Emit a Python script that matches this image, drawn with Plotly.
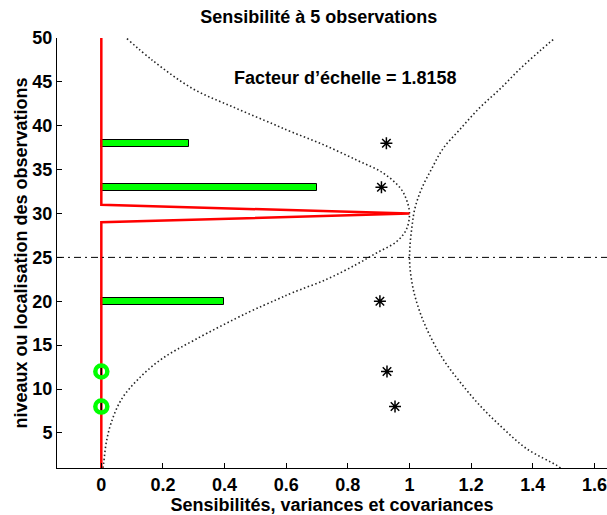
import plotly.graph_objects as go

# ---- data ----
levels_sens = list(range(1, 51))
sens_values = [0.0] * 29 + [1.0] + [0.0] * 20          # red sensitivity profile (peak at level 30)

obs_levels = [38, 33, 20, 12, 8]
obs_sens = [0.286, 0.70, 0.397, 0.0, 0.0]               # green bars
obs_var = [0.925, 0.909, 0.904, 0.927, 0.953]           # asterisks

corr_y = [1.0, 1.66, 3.9, 6.15, 8.8, 11.1, 13.4, 15.6, 18.7, 20.2, 21.0, 22.5, 24.2, 25.5, 26.8,
          28.2, 30.0, 31.6, 32.9, 34.6, 36.1, 37.85, 39.3, 40.2, 42.1, 44.2, 47.4, 50.0]
corr_x = [0.005, 0.008, 0.016, 0.032, 0.065, 0.119, 0.195, 0.303, 0.475, 0.57, 0.622, 0.731, 0.828, 0.893, 0.958,
          0.99, 1.0, 0.99, 0.97, 0.915, 0.828, 0.72, 0.617, 0.557, 0.43, 0.298, 0.168, 0.081]

var_y = [1.0, 1.3, 3.2, 5.5, 8.1, 10.8, 13.4, 16.1, 18.75, 21.4, 24.1, 26.0, 28.2, 30.5, 32.8, 35.1,
         37.4, 39.6, 42.1, 44.2, 46.5, 48.55, 50.0]
var_x = [1.49, 1.478, 1.380, 1.304, 1.229, 1.164, 1.109, 1.066, 1.034, 1.012, 1.001, 1.001, 1.007, 1.017, 1.039, 1.072,
         1.109, 1.164, 1.229, 1.294, 1.359, 1.424, 1.472]

zero_levels = [12, 8]
zero_vals = [0.0, 0.0]

ref_level = 25
title_text = "Sensibilité à 5 observations"
annot_text = "Facteur d’échelle = 1.8158"
annot_pos = (0.792, 45.4)
x_title = "Sensibilités, variances et covariances"
y_title = "niveaux ou localisation des observations"
x_ticks = [0, 0.2, 0.4, 0.6, 0.8, 1.0, 1.2, 1.4, 1.6]
x_ticktext = ["0", "0.2", "0.4", "0.6", "0.8", "1", "1.2", "1.4", "1.6"]
y_ticks = [5, 10, 15, 20, 25, 30, 35, 40, 45, 50]
x_range = [-0.1438, 1.6409]
y_range = [1, 50]

FONT = "Arial, Liberation Sans, Helvetica, sans-serif"
BOLD = dict(family=FONT, size=18, color="black", weight="bold")

fig = go.Figure()

# dotted curves
fig.add_trace(go.Scatter(x=corr_x, y=corr_y, mode="lines", line_shape="spline",
                         line=dict(color="#222222", width=1.6, dash="1.5px,2.5px"), hoverinfo="skip"))
fig.add_trace(go.Scatter(x=var_x, y=var_y, mode="lines", line_shape="spline",
                         line=dict(color="#222222", width=1.6, dash="1.5px,2.5px"), hoverinfo="skip"))

# green bars
fig.add_trace(go.Bar(x=obs_sens[:3], y=obs_levels[:3], orientation="h", width=0.8, base=0,
                     marker=dict(color="#00ff00", line=dict(color="black", width=1))))

# red sensitivity line
fig.add_trace(go.Scatter(x=sens_values, y=levels_sens, mode="lines",
                         line=dict(color="#ff0000", width=2.5)))

# green circles for zero sensitivities
fig.add_trace(go.Scatter(x=zero_vals, y=zero_levels, mode="markers",
                         marker=dict(symbol="circle-open", size=12, color="#00ff00",
                                     line=dict(width=4.5, color="#00ff00"))))
fig.add_trace(go.Scatter(x=zero_vals, y=zero_levels, mode="markers",
                         marker=dict(symbol="line-ns-open", size=5, color="black",
                                     line=dict(width=1.5, color="black"))))

# asterisks (variances)
fig.add_trace(go.Scatter(x=obs_var, y=obs_levels, mode="markers",
                         marker=dict(symbol="asterisk-open", size=10, color="black",
                                     line=dict(width=1.5, color="black"))))

# horizontal dash-dot reference line
fig.add_trace(go.Scatter(x=x_range, y=[ref_level, ref_level], mode="lines",
                         line=dict(color="black", width=1, dash="7px,4px,2px,4px"), hoverinfo="skip"))

fig.add_annotation(x=annot_pos[0], y=annot_pos[1], text=annot_text, showarrow=False,
                   font=BOLD, xanchor="center", yanchor="middle")

fig.update_layout(
    width=607, height=515,
    margin=dict(l=57, r=0, t=38, b=47),
    paper_bgcolor="white", plot_bgcolor="white",
    showlegend=False,
    font=BOLD,
    title=dict(text=title_text, x=0.525, xanchor="center", y=1 - 17 / 515, yanchor="middle",
               yref="container", font=BOLD),
    bargap=0,
)

fig.update_xaxes(range=x_range, tickvals=x_ticks, ticktext=x_ticktext,
                 showline=True, linecolor="black", linewidth=1, mirror=False,
                 ticks="inside", ticklen=5, tickcolor="black", tickwidth=1,
                 showgrid=False, zeroline=False, automargin=False,
                 tickfont=BOLD, title=dict(text=x_title, standoff=2, font=BOLD))
fig.update_yaxes(range=y_range, tickvals=y_ticks,
                 showline=True, linecolor="black", linewidth=1, mirror=False,
                 ticks="inside", ticklen=5, tickcolor="black", tickwidth=1,
                 showgrid=False, zeroline=False, automargin=False,
                 tickfont=BOLD, title=dict(text=y_title, standoff=0, font=BOLD))

fig.write_html("out.html", config={"displayModeBar": False},
               post_script="document.body.style.margin='0';document.body.style.overflow='hidden';")
